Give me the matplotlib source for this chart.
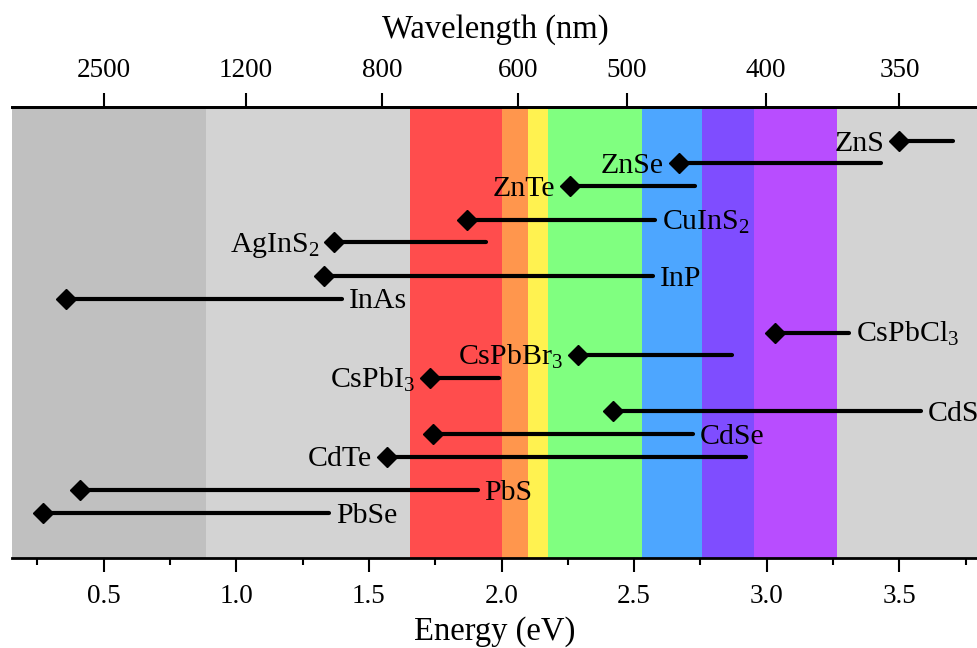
import numpy as np
import matplotlib
matplotlib.use('Agg')
import matplotlib.pyplot as plt
from matplotlib.ticker import MultipleLocator

# Band gap (diamond) and upper end of the tunable range (eV) for each material
names = ['ZnS', 'ZnSe', 'ZnTe', r'CuInS$_2$', r'AgInS$_2$', 'InP', 'InAs',
         r'CsPbCl$_3$', r'CsPbBr$_3$', r'CsPbI$_3$', 'CdS', 'CdSe', 'CdTe',
         'PbS', 'PbSe']
gap_ev = [3.50, 2.67, 2.26, 1.87, 1.37, 1.33, 0.36,
          3.03, 2.29, 1.73, 2.42, 1.74, 1.57, 0.41, 0.27]
max_ev = [3.70, 3.43, 2.73, 2.58, 1.94, 2.57, 1.40,
          3.31, 2.87, 1.99, 3.58, 2.72, 2.92, 1.91, 1.35]
rows = [0, 1, 2, 3.5, 4.5, 6, 7, 8.5, 9.5, 10.5, 12, 13, 14, 15.5, 16.5]
label_side = ['left', 'left', 'left', 'right', 'left', 'right', 'right',
              'right', 'left', 'left', 'right', 'right', 'left', 'right', 'right']

# spectral background bands (boundaries in nm)
band_edges_nm = [1400, 750, 620, 590, 570, 490, 450, 420, 380]
band_colors = ['#c0c0c0', '#d3d3d3', '#ff4d4d', '#ff964d', '#fff250',
               '#80ff80', '#4da6ff', '#7f4dff', '#b84dff', '#d3d3d3']

# top axis: wavelength labels and where they sit on the energy axis (as drawn)
wl_labels = ['2500', '1200', '800', '600', '500', '400', '350']
wl_pos_ev = [0.50, 1.036, 1.549, 2.062, 2.473, 2.997, 3.50]

plt.rcParams['font.family'] = 'Liberation Serif'
plt.rcParams['mathtext.fontset'] = 'custom'
plt.rcParams['mathtext.rm'] = 'Liberation Serif'
plt.rcParams['mathtext.it'] = 'Liberation Serif:italic'

xmin, xmax = 0.155, 3.796

fig = plt.figure(figsize=(9.78, 6.48), dpi=100)
ax = fig.add_axes([12 / 978, 90 / 648, 966 / 978, 451 / 648])

edges = [xmin] + [1240.0 / nm for nm in band_edges_nm] + [xmax]
for i, c in enumerate(band_colors):
    ax.axvspan(edges[i], edges[i + 1], color=c, lw=0, zorder=0)

for name, g, m, y, side in zip(names, gap_ev, max_ev, rows, label_side):
    ax.plot([g, m], [y, y], color='k', lw=3, solid_capstyle='round', zorder=2)
    ax.plot(g, y, marker='D', ms=10.5, color='k', zorder=3)
    if side == 'left':
        ax.annotate(name, (g, y), xytext=(-11, -7), textcoords='offset points',
                    ha='right', va='baseline', fontsize=21.5)
    else:
        ax.annotate(name, (m, y), xytext=(5, -7), textcoords='offset points',
                    ha='left', va='baseline', fontsize=21.5)

ax.set_xlim(xmin, xmax)
ax.set_ylim(18.5, -1.5)
ax.set_yticks([])
for s in ['left', 'right']:
    ax.spines[s].set_visible(False)
for s in ['top', 'bottom']:
    ax.spines[s].set_linewidth(2)

ax.xaxis.set_major_locator(MultipleLocator(0.5))
ax.xaxis.set_minor_locator(MultipleLocator(0.25))
ax.tick_params(axis='x', which='major', direction='out', length=10, width=1.5,
               labelsize=19.5, pad=9)
ax.tick_params(axis='x', which='minor', direction='out', length=5, width=1.5)
ax.set_xlabel('Energy (eV)', fontsize=23.5, labelpad=5)

ax2 = ax.twiny()
ax2.set_xlim(xmin, xmax)
ax2.set_xticks(wl_pos_ev)
ax2.set_xticklabels(wl_labels)
ax2.tick_params(axis='x', direction='out', length=10, width=1.5,
                labelsize=19.5, pad=7)
for s in ['left', 'right', 'bottom']:
    ax2.spines[s].set_visible(False)
ax2.spines['top'].set_linewidth(2)
ax2.set_xlabel('Wavelength (nm)', fontsize=23.5, labelpad=15)

plt.savefig('out.png', dpi=100)
